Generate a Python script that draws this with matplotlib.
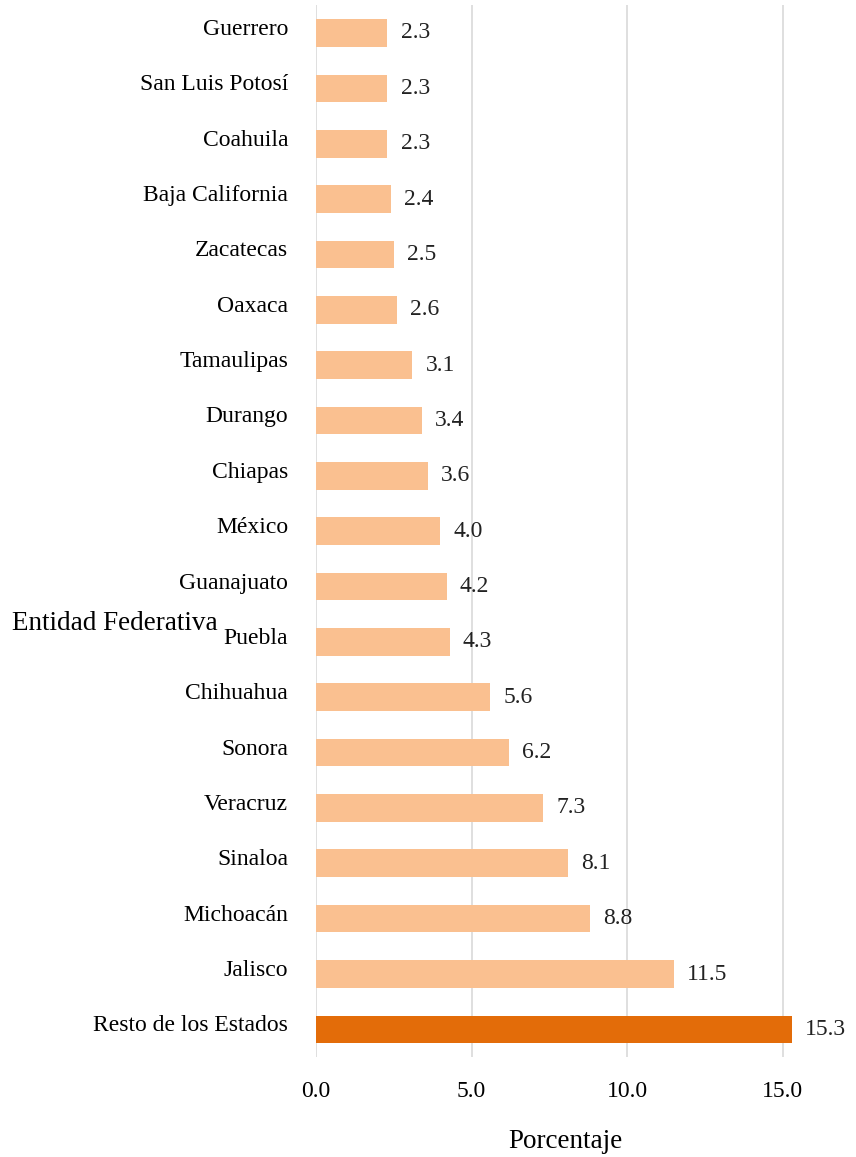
import matplotlib.pyplot as plt
import matplotlib.transforms as mtransforms
import numpy as np

plt.rcParams['font.family'] = ['Liberation Serif', 'DejaVu Serif']

# top to bottom
estados = ['Guerrero', 'San Luis Potosí', 'Coahuila', 'Baja California', 'Zacatecas',
           'Oaxaca', 'Tamaulipas', 'Durango', 'Chiapas', 'México', 'Guanajuato',
           'Puebla', 'Chihuahua', 'Sonora', 'Veracruz', 'Sinaloa', 'Michoacán',
           'Jalisco', 'Resto de los Estados']
porcentaje = [2.3, 2.3, 2.3, 2.4, 2.5, 2.6, 3.1, 3.4, 3.6, 4.0, 4.2, 4.3,
              5.6, 6.2, 7.3, 8.1, 8.8, 11.5, 15.3]
xticks = [0, 5, 10, 15]

claro = '#FAC090'
oscuro = '#E36C09'
colores = [claro] * (len(estados) - 1) + [oscuro]

fig = plt.figure(figsize=(8.56, 11.57), dpi=100)
ax = fig.add_axes([0.369, 0.0864, 0.582, 0.909])

y = np.arange(len(estados))
ax.barh(y, porcentaje, height=0.5, color=colores, zorder=3)
for yi, v in zip(y, porcentaje):
    ax.text(v + 0.42, yi, f'{v:.1f}', va='center', ha='left', fontsize=17, color='#222222')

ax.set_ylim(len(estados) - 0.5, -0.5)
ax.set_xlim(0, 16)
ax.set_yticks(y)
ax.set_yticklabels(estados, fontsize=17)
ax.set_xticks(xticks)
ax.set_xticklabels([f'{t:.1f}' for t in xticks], fontsize=17)
ax.tick_params(length=0)
ax.tick_params(axis='x', pad=17)
ax.tick_params(axis='y', pad=20)
# y labels sit a little above the bar centres
off = mtransforms.ScaledTranslation(0, 6 / 100, fig.dpi_scale_trans)
for lab in ax.get_yticklabels():
    lab.set_transform(lab.get_transform() + off)
ax.xaxis.grid(True, color='#D9D9D9', linewidth=1.2, zorder=0)
for s in ax.spines.values():
    s.set_visible(False)

fig.text(0.014, 1 - 623 / 1157, 'Entidad Federativa', fontsize=19.5, va='center', ha='left')
fig.text(565 / 856, 1 - 1141 / 1157, 'Porcentaje', fontsize=19.5, va='center', ha='center')

fig.savefig('out.png', dpi=100)
